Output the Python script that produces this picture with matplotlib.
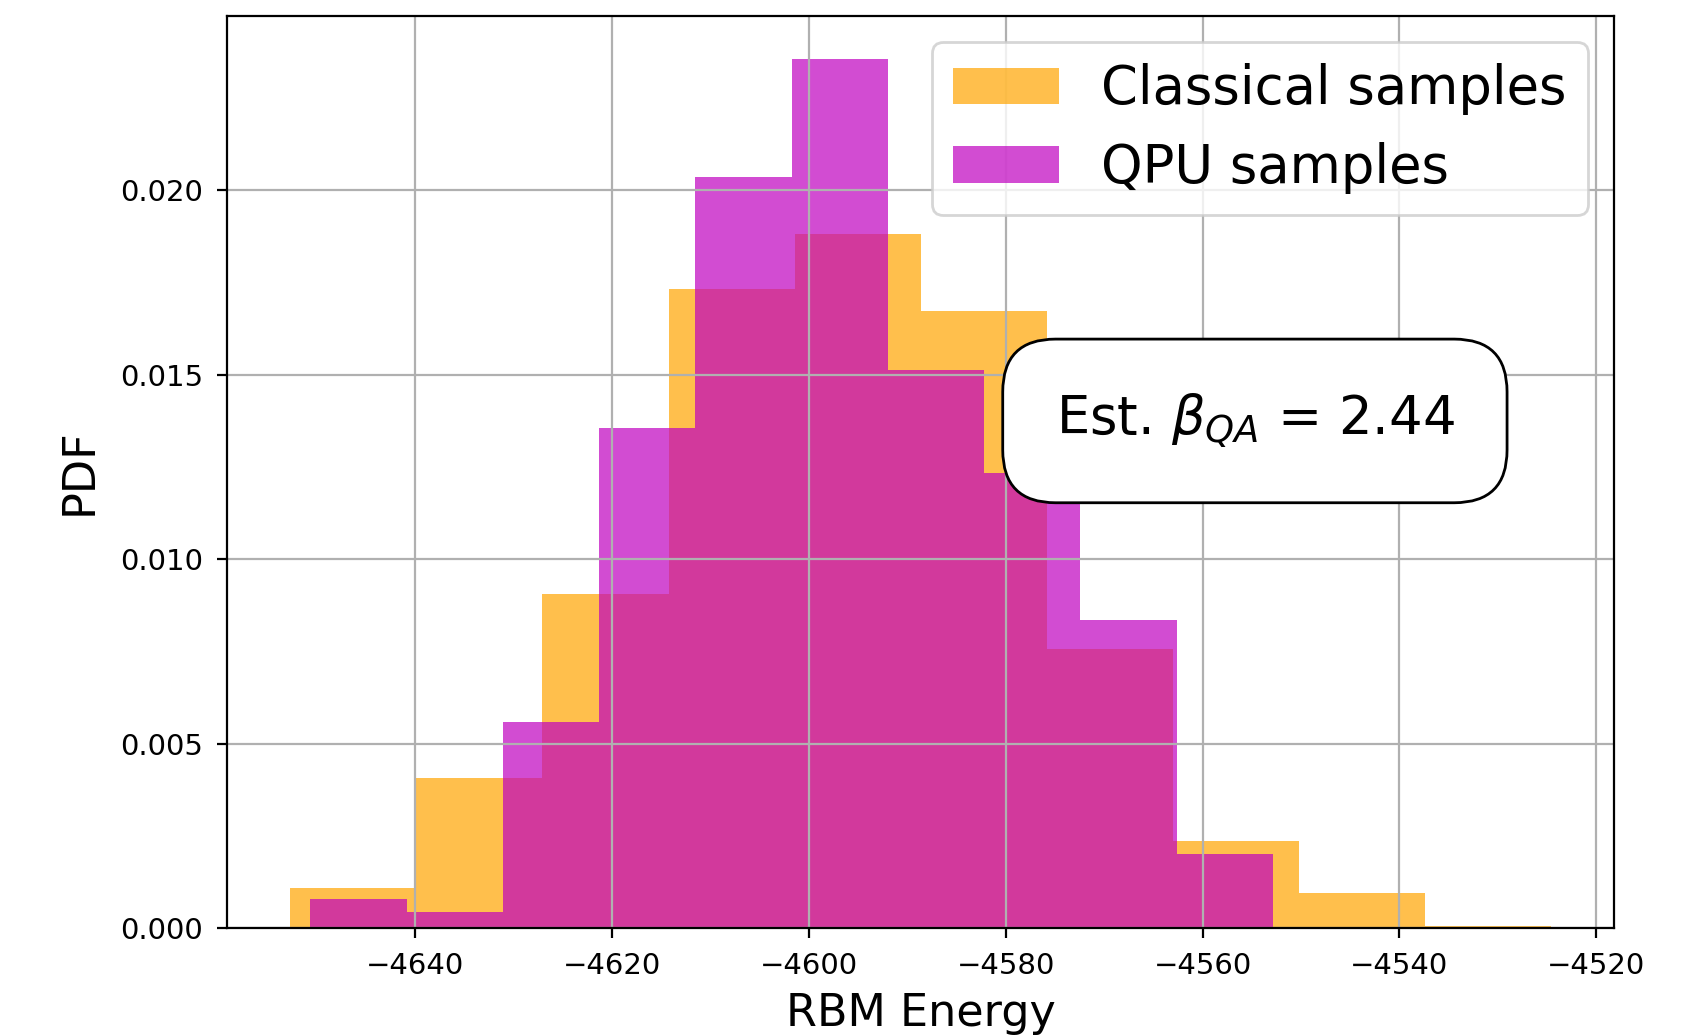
import numpy as np
import matplotlib
matplotlib.use("Agg")
import matplotlib.pyplot as plt

# =========================
# Datos
# =========================
# Bordes de los bins del histograma clásico
classical_edges = [-4652.70, -4639.89, -4627.08, -4614.27, -4601.46, -4588.65,
                   -4575.84, -4563.03, -4550.22, -4537.41, -4524.60]
classical_pdf = [0.00108, 0.00406, 0.00906, 0.01731, 0.01880,
                 0.01673, 0.00757, 0.00237, 0.00096, 0.00006]

# Bordes de los bins del histograma QPU
qpu_edges = [-4650.66, -4640.88, -4631.10, -4621.32, -4611.54, -4601.76,
             -4591.98, -4582.20, -4572.42, -4562.64, -4552.86]
qpu_pdf = [0.00079, 0.00044, 0.00558, 0.01354, 0.02035,
           0.02354, 0.01512, 0.01234, 0.00836, 0.00202]

beta_qa = 2.44

# =========================
# Figura
# =========================
fig = plt.figure(figsize=(8.48, 5.18), dpi=200)
ax = fig.add_axes([0.134, 0.1042, 0.8177, 0.8804])

c_edges = np.array(classical_edges)
q_edges = np.array(qpu_edges)

ax.hist((c_edges[:-1] + c_edges[1:]) / 2, bins=c_edges, weights=classical_pdf,
        color="orange", alpha=0.7, label="Classical samples")
ax.hist((q_edges[:-1] + q_edges[1:]) / 2, bins=q_edges, weights=qpu_pdf,
        color="m", alpha=0.7, label="QPU samples")

ax.set_xlabel("RBM Energy", fontsize=16)
ax.set_ylabel("PDF", fontsize=16, labelpad=7)
ax.tick_params(labelsize=10.5, pad=5.3)
ax.grid(True)
ax.legend(loc="upper right", fontsize=19)

ax.text(0.741, 0.556, r"Est. $\beta_{QA}$ = %.2f" % beta_qa,
        transform=ax.transAxes, ha="center", va="center", fontsize=19,
        bbox=dict(boxstyle="round,pad=1", facecolor="white", edgecolor="black"))

fig.savefig("out.png", dpi=200)
